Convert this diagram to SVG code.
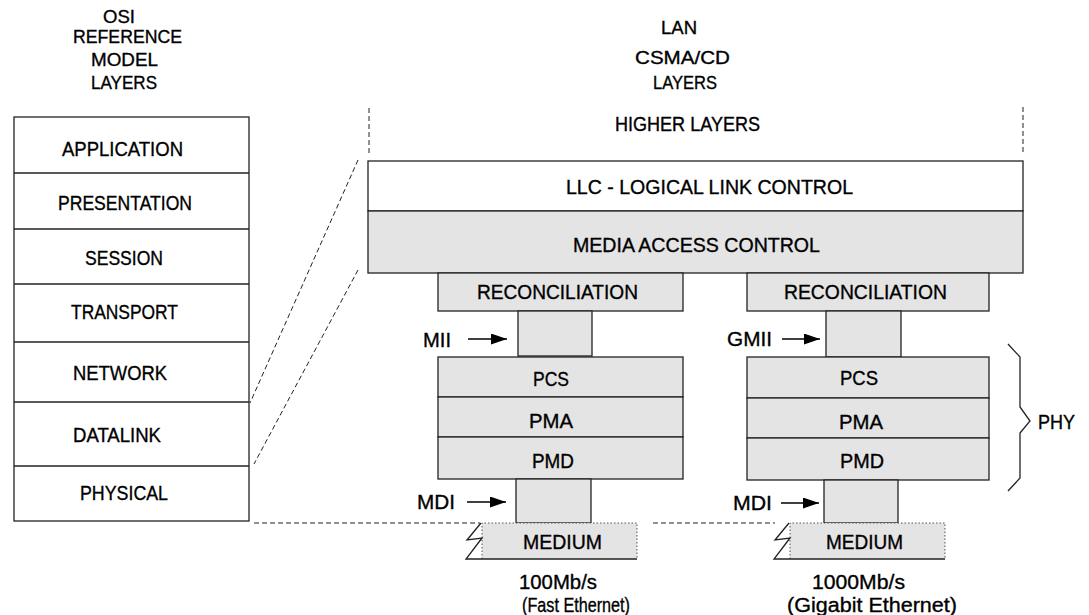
<svg xmlns="http://www.w3.org/2000/svg" width="1089" height="615" viewBox="0 0 1089 615">
<defs>
<style>
text{font-family:"Liberation Sans",Arial,sans-serif;font-size:20.5px;fill:#000;stroke:#000;stroke-width:0.35;}
text.h{font-size:18.5px;}
.box{stroke:#222;stroke-width:1.3;}
.w{fill:#fff;}
.g{fill:#e4e4e4;}
.dash{fill:none;stroke:#222;stroke-width:1;stroke-dasharray:5 3;}
.dot{fill:none;stroke:#555;stroke-width:1;stroke-dasharray:1.5 2;}
.ln{fill:none;stroke:#222;stroke-width:1.3;}
.arr{fill:none;stroke:#000;stroke-width:1.3;marker-end:url(#ah);}
</style>
<marker id="ah" viewBox="0 0 16 11" refX="16" refY="5.5" markerWidth="16" markerHeight="11" markerUnits="userSpaceOnUse" orient="auto">
<path d="M0,0 L16,5.5 L0,11 Z" fill="#000"/>
</marker>
</defs>
<rect width="1089" height="615" fill="#fff"/>

<g id="headers">
<text class="h" x="103" y="22.5" textLength="32" lengthAdjust="spacingAndGlyphs">OSI</text>
<text class="h" x="73" y="43" textLength="109" lengthAdjust="spacingAndGlyphs">REFERENCE</text>
<text class="h" x="91" y="66" textLength="67" lengthAdjust="spacingAndGlyphs">MODEL</text>
<text class="h" x="91" y="89" textLength="66" lengthAdjust="spacingAndGlyphs">LAYERS</text>
<text class="h" x="661" y="34" textLength="36" lengthAdjust="spacingAndGlyphs">LAN</text>
<text class="h" x="635" y="64" textLength="95" lengthAdjust="spacingAndGlyphs">CSMA/CD</text>
<text class="h" x="653" y="89" textLength="64" lengthAdjust="spacingAndGlyphs">LAYERS</text>
<text x="615" y="131" textLength="145" lengthAdjust="spacingAndGlyphs">HIGHER LAYERS</text>
</g>

<g id="osi">
<rect class="box w" x="14" y="117" width="235" height="404"/>
<line class="ln" x1="14" y1="173" x2="249" y2="173"/>
<line class="ln" x1="14" y1="229" x2="249" y2="229"/>
<line class="ln" x1="14" y1="284" x2="249" y2="284"/>
<line class="ln" x1="14" y1="342" x2="249" y2="342"/>
<line class="ln" x1="14" y1="402" x2="249" y2="402"/>
<line class="ln" x1="14" y1="466" x2="249" y2="466"/>
<text x="62" y="156" textLength="121" lengthAdjust="spacingAndGlyphs">APPLICATION</text>
<text x="58" y="210" textLength="134" lengthAdjust="spacingAndGlyphs">PRESENTATION</text>
<text x="85" y="265" textLength="78" lengthAdjust="spacingAndGlyphs">SESSION</text>
<text x="71" y="319" textLength="107" lengthAdjust="spacingAndGlyphs">TRANSPORT</text>
<text x="73" y="380" textLength="94" lengthAdjust="spacingAndGlyphs">NETWORK</text>
<text x="73" y="442" textLength="88" lengthAdjust="spacingAndGlyphs">DATALINK</text>
<text x="80" y="500" textLength="88" lengthAdjust="spacingAndGlyphs">PHYSICAL</text>
</g>

<g id="llc">
<rect class="box w" x="368" y="161" width="655" height="50"/>
<text x="566" y="194" textLength="287" lengthAdjust="spacingAndGlyphs">LLC - LOGICAL LINK CONTROL</text>
</g>
<g id="mac">
<rect class="box g" x="368" y="211" width="655" height="62"/>
<text x="573" y="252" textLength="247" lengthAdjust="spacingAndGlyphs">MEDIA ACCESS CONTROL</text>
</g>

<g id="fast-ethernet">
<rect class="box g" x="438" y="273" width="245" height="38"/>
<text x="477" y="299" textLength="161" lengthAdjust="spacingAndGlyphs">RECONCILIATION</text>
<rect class="box g" x="518" y="311" width="74" height="45"/>
<rect class="box g" x="438" y="357" width="245" height="40"/>
<text x="533" y="386" textLength="36" lengthAdjust="spacingAndGlyphs">PCS</text>
<rect class="box g" x="438" y="397" width="245" height="40"/>
<text x="529" y="428" textLength="44" lengthAdjust="spacingAndGlyphs">PMA</text>
<rect class="box g" x="438" y="437" width="245" height="42"/>
<text x="532" y="468" textLength="42" lengthAdjust="spacingAndGlyphs">PMD</text>
<rect class="box g" x="516" y="479" width="75" height="44"/>
<rect x="482" y="523" width="155" height="36" fill="#e4e4e4"/>
<path class="dot" d="M482,559 L482,523 L637,523 L637,559"/>
<path class="ln" d="M481,523 L467,540 L482,538 L466,559 L637,559"/>
<text x="523" y="549" textLength="79" lengthAdjust="spacingAndGlyphs">MEDIUM</text>
<text x="519" y="589" textLength="78" lengthAdjust="spacingAndGlyphs">100Mb/s</text>
<text x="522" y="612" textLength="108" lengthAdjust="spacingAndGlyphs">(Fast Ethernet)</text>
<text x="423" y="347" textLength="28" lengthAdjust="spacingAndGlyphs">MII</text>
<text x="417" y="509" textLength="38" lengthAdjust="spacingAndGlyphs">MDI</text>
</g>

<g id="gigabit-ethernet">
<rect class="box g" x="747" y="273" width="242" height="38"/>
<text x="784" y="299" textLength="163" lengthAdjust="spacingAndGlyphs">RECONCILIATION</text>
<rect class="box g" x="826" y="311" width="75" height="46"/>
<rect class="box g" x="747" y="357" width="242" height="41"/>
<text x="840" y="385" textLength="38" lengthAdjust="spacingAndGlyphs">PCS</text>
<rect class="box g" x="747" y="398" width="242" height="40"/>
<text x="839" y="429" textLength="44" lengthAdjust="spacingAndGlyphs">PMA</text>
<rect class="box g" x="747" y="438" width="242" height="42"/>
<text x="840" y="468" textLength="44" lengthAdjust="spacingAndGlyphs">PMD</text>
<rect class="box g" x="824" y="480" width="74" height="43"/>
<rect x="790" y="523" width="155" height="36" fill="#e4e4e4"/>
<path class="dot" d="M790,559 L790,523 L945,523 L945,559"/>
<path class="ln" d="M789,523 L775,540 L790,538 L774,559 L945,559"/>
<text x="826" y="549" textLength="77" lengthAdjust="spacingAndGlyphs">MEDIUM</text>
<text x="812" y="589" textLength="93" lengthAdjust="spacingAndGlyphs">1000Mb/s</text>
<text x="787" y="612" textLength="170" lengthAdjust="spacingAndGlyphs">(Gigabit Ethernet)</text>
<text x="727" y="346" textLength="45" lengthAdjust="spacingAndGlyphs">GMII</text>
<text x="733" y="510" textLength="39" lengthAdjust="spacingAndGlyphs">MDI</text>
</g>

<g id="phy">
<path class="ln" d="M1008,344 L1020,357 L1020,407 L1030,421 L1020,433 L1020,478 L1008,491" stroke-width="1.1"/>
<text x="1038" y="429" textLength="37" lengthAdjust="spacingAndGlyphs">PHY</text>
</g>

<g id="connectors">
<line class="arr" x1="468" y1="339" x2="507" y2="339"/>
<line class="arr" x1="467" y1="502" x2="506" y2="502"/>
<line class="arr" x1="782" y1="339" x2="820" y2="339"/>
<line class="arr" x1="781" y1="503" x2="819" y2="503"/>
<line class="dash" x1="369" y1="108" x2="369" y2="153"/>
<line class="dash" x1="1023" y1="107" x2="1023" y2="152"/>
<line class="dash" x1="358" y1="160" x2="250" y2="403"/>
<line class="dash" x1="358" y1="270" x2="254" y2="464"/>
<line class="dash" x1="254" y1="523" x2="480" y2="523"/>
<line class="dash" x1="653" y1="523" x2="775" y2="523"/>
</g>
</svg>
